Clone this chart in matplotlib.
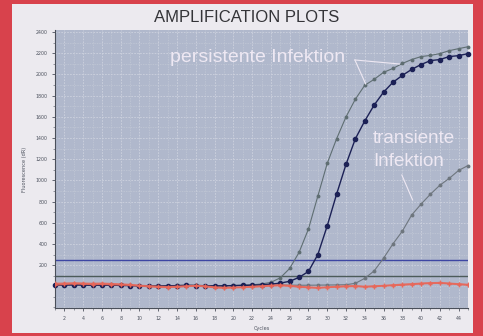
import matplotlib
matplotlib.use("Agg")
import matplotlib.pyplot as plt
from matplotlib.patches import Rectangle

cycles = list(range(1, 46))

persist_light = [12, 14, 15, 13, 12, 14, 12, 10, 8, 6, 5, 4, 6, 8, 10, 9, 7, 5, 6, 8, 10, 14, 22, 37, 80, 168, 320, 540, 851,
                 1160, 1393, 1599, 1767, 1898, 1954, 2020, 2057, 2104, 2141, 2169, 2180, 2197, 2225, 2244, 2262]
persist_dark = [10, 12, 13, 12, 10, 11, 10, 8, 6, 4, 3, 2, 4, 6, 8, 7, 5, 3, 4, 6, 8, 10, 14, 20, 30, 47, 84, 140, 299,
                570, 870, 1150, 1393, 1561, 1711, 1833, 1926, 1991, 2048, 2094, 2131, 2141, 2169, 2178, 2197]
transient = [14, 16, 15, 14, 12, 13, 11, 9, 7, 5, 4, 3, 5, 7, 9, 8, 6, 4, 5, 7, 9, 10, 11, 12, 12, 11, 10, 10, 11,
             12, 13, 15, 28, 75, 145, 265, 400, 520, 673, 776, 870, 954, 1019, 1094, 1140]
neg_ctrl_1 = [20, 25, 28, 26, 22, 25, 20, 18, 14, 6, 0, -5, -8, -4, 0, 5, 0, -10, -15, -12, -10, -5, 0, 6, 10, 4, -5,
              -10, -15, -10, -5, 0, 2, -4, 0, 5, 10, 15, 20, 26, 30, 32, 26, 20, 14]
neg_ctrl_2 = [10, 18, 22, 20, 16, 18, 14, 12, 8, 2, -5, -10, -12, -8, -3, 2, -4, -14, -18, -15, -12, -8, -4, 2, 5, 0, -8,
              -14, -18, -12, -8, -4, -2, -8, -4, 2, 6, 10, 16, 22, 26, 28, 22, 16, 10]
neg_ctrl_3 = [28, 30, 32, 30, 28, 30, 26, 22, 18, 10, 5, 0, -3, 0, 4, 8, 4, -6, -10, -8, -6, 0, 4, 10, 14, 8, 0,
              -6, -10, -6, 0, 4, 6, 0, 4, 8, 14, 20, 24, 30, 34, 36, 30, 24, 18]

threshold_blue = 252
threshold_green = 96

y_ticks = list(range(200, 2401, 200))
x_ticks = list(range(2, 45, 2))

title = "AMPLIFICATION PLOTS"
label_persist = "persistente Infektion"
label_transient_1 = "transiente"
label_transient_2 = "Infektion"

fig = plt.figure(figsize=(4.83, 3.36), dpi=100)
fig.patch.set_facecolor('#d8424c')
fig.add_artist(Rectangle((12 / 483, 3 / 336), (473 - 12) / 483, (332 - 3) / 336,
                         transform=fig.transFigure, facecolor='#eceaef', edgecolor='none', zorder=0))

ax = fig.add_axes([55 / 483, 1 - 308 / 336, (468 - 55) / 483, (308 - 30) / 336])
ax.set_facecolor('#b0b8cc')
ax.set_xlim(1, 45)
ax.set_ylim(-205, 2420)

ax.set_xticks(x_ticks)
ax.set_yticks(y_ticks)
ax.set_xticks(cycles, minor=True)
ax.set_yticks(list(range(-200, 2401, 100)), minor=True)
ax.grid(True, which='major', color='#cdd2df', linestyle='--', linewidth=0.6, dashes=(2, 1.5))
ax.grid(True, which='minor', color='#c2c8d6', linestyle='--', linewidth=0.5, dashes=(2, 1.5))
ax.set_axisbelow(True)
ax.tick_params(axis='both', which='major', labelsize=3.4, colors='#4d525e', length=2.5, width=0.6, pad=3)
ax.tick_params(axis='both', which='minor', length=1.5, width=0.4, colors='#4d525e')
for s in ['top', 'right']:
    ax.spines[s].set_visible(False)
for s in ['left', 'bottom']:
    ax.spines[s].set_color('#4a4f5a')
    ax.spines[s].set_linewidth(0.8)

ax.set_ylabel("Fluorescence (dR)", fontsize=3.6, color='#4d525e', labelpad=6)
ax.set_xlabel("Cycles", fontsize=3.6, color='#4d525e', labelpad=4)

ax.axhline(threshold_blue, color='#3d46a3', linewidth=1.0, zorder=2)
ax.axhline(threshold_green, color='#4c5b5a', linewidth=1.0, zorder=2)

ax.plot(cycles, transient, color='#6e767e', linewidth=0.8, marker='o', markersize=1.8, zorder=4, clip_on=False)
ax.plot(cycles, persist_light, color='#5f6e72', linewidth=0.8, marker='o', markersize=1.8, zorder=4, clip_on=False)
ax.plot(cycles, persist_dark, color='#1c2156', linewidth=1.0, marker='o', markersize=3.0, zorder=5, clip_on=False)

for vals in (neg_ctrl_1, neg_ctrl_2, neg_ctrl_3):
    ax.plot(cycles, vals, color='#e8685a', linewidth=0.9, marker='+', markersize=3.5,
            markeredgewidth=0.9, alpha=0.85, zorder=6)

tfont = dict(family=['Liberation Sans', 'DejaVu Sans'])
fig.text(0.511, 1 - 18 / 336, title, ha='center', va='center', fontsize=12, color='#343438', **tfont)

txt_col = '#eee8f3'
ax.text(22.6, 2156, label_persist, ha='center', va='center', fontsize=14, color=txt_col, **tfont, zorder=7)
ax.plot([32.95, 34.1], [2137, 1910], color=txt_col, linewidth=0.8, zorder=7)
ax.plot([32.95, 37.7], [2137, 2099], color=txt_col, linewidth=0.8, zorder=7)

ax.text(34.9, 1400, label_transient_1, ha='left', va='center', fontsize=13.5, color=txt_col, **tfont, zorder=7)
ax.text(34.9, 1174, label_transient_2, ha='left', va='center', fontsize=13.5, color=txt_col, **tfont, zorder=7)
ax.plot([37.95, 39.1], [1051, 815], color=txt_col, linewidth=0.8, zorder=7)

fig.savefig("out.png", dpi=100, facecolor=fig.get_facecolor())
